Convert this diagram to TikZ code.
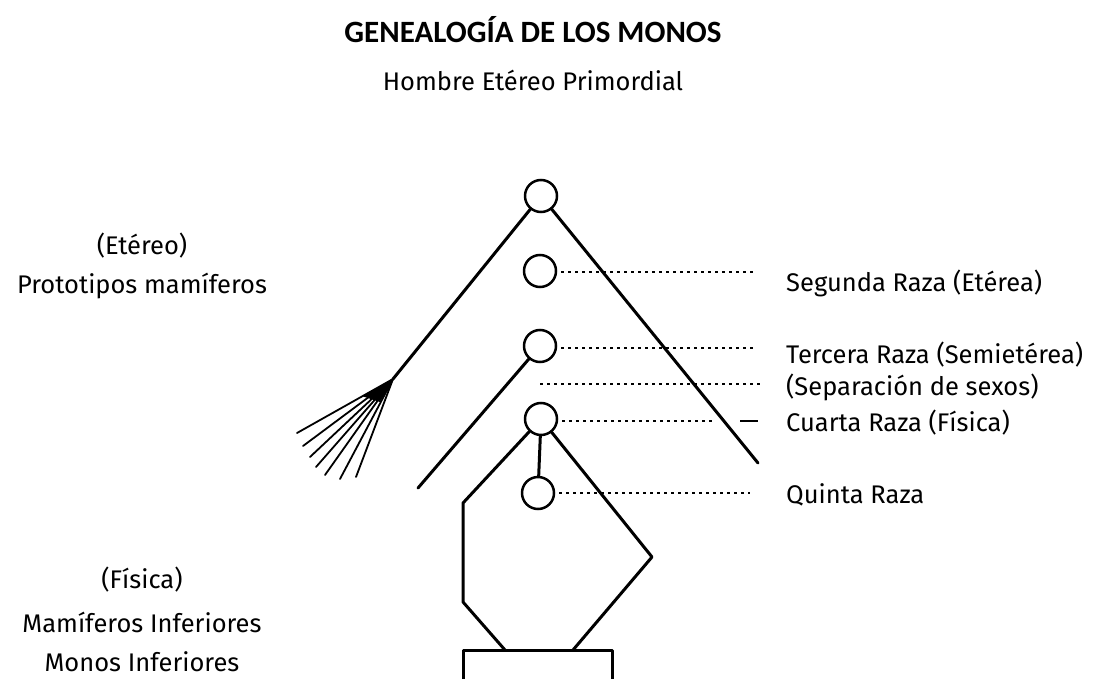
\documentclass[tikz,border=0pt]{standalone}
\usepackage{fontspec}
\setmainfont{Fira Sans}
\newfontfamily\titlefont{Carlito}
\begin{document}
\begin{tikzpicture}[x=1pt,y=-1pt,
  circ/.style={circle,draw,line width=2.5pt,minimum size=32pt,inner sep=0pt},
  trunk/.style={line width=3pt,line cap=round,line join=round},
  twig/.style={line width=1.8pt,line cap=round},
  dots/.style={line width=2.6pt,dash pattern=on 2.5pt off 4.5pt},
  lbl/.style={font=\fontsize{25.5}{30}\selectfont,inner sep=0pt},
]
\useasboundingbox[fill=white] (0,0) rectangle (1102,679);
% titles
\node[font=\titlefont\bfseries\fontsize{31}{35}\selectfont,inner sep=0pt] (title) at (533,30) {GENEALOGÍA DE LOS MONOS};
\node[lbl] (hombre) at (533,80) {Hombre Etéreo Primordial};
% circles
\node[circ] (c1) at (541,196) {};
\node[circ] (c2) at (540,271) {};
\node[circ] (c3) at (540,346) {};
\node[circ] (c4) at (541,419) {};
\node[circ] (c5) at (538,493) {};
% coordinates
\coordinate (apex) at (393,379);
\coordinate (rend) at (758,463);
\coordinate (c3end) at (418,488);
\coordinate (l1) at (463,503);
\coordinate (l2) at (463,602);
\coordinate (l3) at (505,650);
\coordinate (r1) at (652,557);
\coordinate (r2) at (573,650);
\coordinate (b1) at (463,685);
\coordinate (b2) at (463,650);
\coordinate (b3) at (612,650);
\coordinate (b4) at (612,685);
\coordinate (f1) at (297,433);
\coordinate (f2) at (303,446);
\coordinate (f3) at (310,457);
\coordinate (f4) at (316,467);
\coordinate (f5) at (325,475);
\coordinate (f6) at (340,479);
\coordinate (f7) at (356,477);
\coordinate (w1) at (362,396);
\coordinate (w2) at (380,402);
% main lines
\draw[trunk] (c1) -- (apex);
\draw[trunk] (c1) -- (rend);
\draw[trunk] (c3) -- (c3end);
\draw[trunk] (c4) -- (l1) -- (l2) -- (l3);
\draw[trunk] (c4) -- (c5);
\draw[trunk] (c4) -- (r1) -- (r2);
\draw[trunk] (b1) -- (b2) -- (b3) -- (b4);
% fan
\fill (apex) -- (w1) -- (w2) -- cycle;
\draw[twig] (apex) -- (f1);
\draw[twig] (apex) -- (f2);
\draw[twig] (apex) -- (f3);
\draw[twig] (apex) -- (f4);
\draw[twig] (apex) -- (f5);
\draw[twig] (apex) -- (f6);
\draw[twig] (apex) -- (f7);
% dotted lines
\coordinate (d2) at (753,272);
\coordinate (d3) at (755,348);
\coordinate (s1) at (540,384);
\coordinate (s2) at (760,384);
\coordinate (d4) at (716,421);
\coordinate (d4a) at (740,421);
\coordinate (d4b) at (758,421);
\coordinate (d5) at (750,493);
\draw[dots] (c2.east) ++(4,1) -- (d2);
\draw[dots] (c3.east) ++(4,2) -- (d3);
\draw[dots] (s1) -- (s2);
\draw[dots] (c4.east) ++(4,2) -- (d4);
\draw[line width=2.6pt] (d4a) -- (d4b);
\draw[dots] (c5.east) ++(4,0) -- (d5);
% right labels
\node[lbl,anchor=west] (seg) at (786,283) {Segunda Raza (Etérea)};
\node[lbl,anchor=west] (ter) at (786,355) {Tercera Raza (Semietérea)};
\node[lbl,anchor=west] (sep) at (786,387) {(Separación de sexos)};
\node[lbl,anchor=west] (cua) at (786,423) {Cuarta Raza (Física)};
\node[lbl,anchor=west] (qui) at (786,495) {Quinta Raza};
% left labels
\node[lbl] (ete) at (142,246) {(Etéreo)};
\node[lbl] (pro) at (142,286) {Prototipos mamíferos};
\node[lbl] (fis) at (142,580) {(Física)};
\node[lbl] (mam) at (142,622) {Mamíferos Inferiores};
\node[lbl] (mon) at (142,662) {Monos Inferiores};
\end{tikzpicture}
\end{document}
